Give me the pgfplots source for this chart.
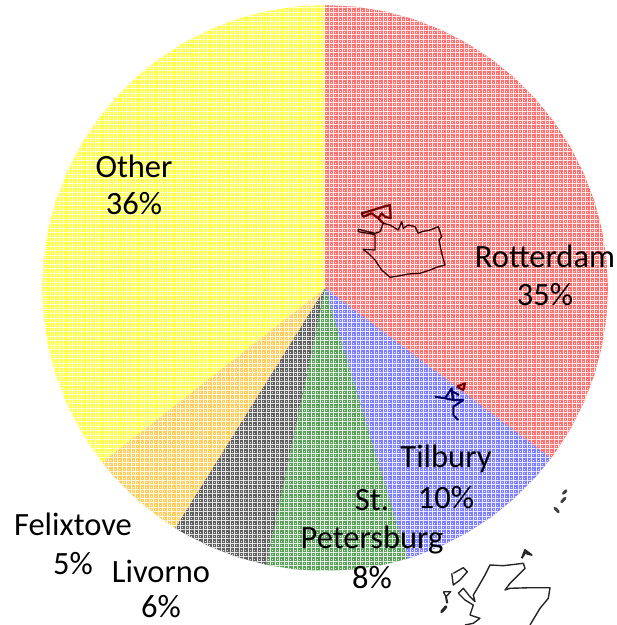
\documentclass[border=0pt]{standalone}
\usepackage{pgfplots}
\pgfplotsset{compat=1.18}
\usepackage{fontspec}
\setmainfont{Carlito}
\usetikzlibrary{patterns}
\pgfdeclarepatternformonly{finegrid}{\pgfqpoint{-0.1bp}{-0.1bp}}{\pgfqpoint{4.6bp}{4.6bp}}{\pgfqpoint{4.5bp}{4.5bp}}{%
  \pgfpathrectangle{\pgfqpoint{2.3bp}{2.3bp}}{\pgfqpoint{1bp}{1bp}}%
  \pgfusepath{fill}%
  \pgfsetlinewidth{1.05bp}%
  \pgfpathmoveto{\pgfqpoint{0bp}{0.55bp}}\pgfpathlineto{\pgfqpoint{4.5bp}{0.55bp}}%
  \pgfpathmoveto{\pgfqpoint{0.55bp}{0bp}}\pgfpathlineto{\pgfqpoint{0.55bp}{4.5bp}}%
  \pgfusepath{stroke}}
\definecolor{cRed}{RGB}{255,112,112}
\definecolor{cBlue}{RGB}{125,125,255}
\definecolor{cGreen}{RGB}{90,160,90}
\definecolor{cGrey}{RGB}{95,95,95}
\definecolor{cOrange}{RGB}{255,205,90}
\definecolor{cYellow}{RGB}{255,255,60}
\pgfplotsset{wedge/.style={forget plot,fill=#1,draw=none,postaction={pattern=finegrid,pattern color=white!85!#1}}}
\begin{document}
\begin{tikzpicture}
\path[use as bounding box] (0,0) rectangle (617bp,625bp);
\begin{axis}[at={(0,0)},anchor=south west,scale only axis,width=617bp,height=625bp,
  xmin=0,xmax=617,ymin=0,ymax=625,y dir=reverse,hide axis,clip=true]
\addplot[wedge=cRed] coordinates {(325,288)(325,5)(354.6,6.6)(383.8,11.2)(412.5,18.8)(440.1,29.5)(466.5,42.9)(491.3,59)(514.4,77.7)(535.3,98.6)(554,121.7)(570.1,146.5)(583.5,172.9)(594.2,200.5)(601.8,229.2)(606.4,258.4)(608,288)(606.4,317.6)(601.8,346.8)(594.2,375.5)(583.5,403.1)(570.1,429.5)(554,454.3)(551,458.3)} --cycle;
\addplot[wedge=cBlue] coordinates {(325,288)(551,458.3)(535.3,477.4)(514.4,498.3)(491.3,517)(466.5,533.1)(440.1,546.5)(412.5,557.2)(407.7,558.6)} --cycle;
\addplot[wedge=cGreen] coordinates {(325,288)(407.7,558.6)(383.8,564.8)(354.6,569.4)(325,571)(295.4,569.4)(266.2,564.8)} --cycle;
\addplot[wedge=cGrey] coordinates {(325,288)(266.2,564.8)(237.5,557.2)(209.9,546.5)(183.5,533.1)(175,528)} --cycle;
\addplot[wedge=cOrange] coordinates {(325,288)(175,528)(158.7,517)(135.6,498.3)(114.7,477.4)(102,462.2)} --cycle;
\addplot[wedge=cYellow] coordinates {(325,288)(102,462.2)(96,454.3)(79.9,429.5)(66.5,403.1)(55.8,375.5)(48.2,346.8)(43.6,317.6)(42,288)(43.6,258.4)(48.2,229.2)(55.8,200.5)(66.5,172.9)(79.9,146.5)(96,121.7)(114.7,98.6)(135.6,77.7)(158.7,59)(183.5,42.9)(209.9,29.5)(237.5,18.8)(266.2,11.2)(295.4,6.6)(325,5)} --cycle;
% outline in the red wedge
\addplot[draw=black!80!red,line width=1.3pt,line join=round,forget plot] coordinates {(362.7,249.3)(368.3,253.3)(375,260)(381.7,270)(390,277.3)(398.3,276)(408.3,274)(420,273.3)(430,270)(436.7,267.3)(445,265)(441.7,253.3)(439,240)(441.7,236.7)(438.3,226.7)(430,230)(421.7,231.7)(418.3,233.3)(415,226.7)(408.3,225)(403.3,228.3)(401.7,221.7)(398.3,230)(390,225)(383.3,223.3)(380,231.7)(375,233.3)(358.3,229.3)(358.3,231.7)(373.3,234.3)(375,235)(375,250)(362.7,249.3)};
\addplot[draw=black!55!red,line width=2.2pt,line join=round,forget plot] coordinates {(383.3,223.3)(378.3,218.3)(371.7,213.3)(363.3,216.7)(361.7,213.3)(373.3,210)(383.3,206.7)(390,205)(390.7,218.3)(385,216.7)(381.7,213.3)(378.3,218.3)};
% islets over the blue wedge
\addplot[draw=black!60!blue,line width=2pt,line join=round,forget plot] coordinates {(435,396.7)(445,398.3)(451.7,388.3)(453.3,400)(463.3,400)(453.3,406.7)(453.3,415)(458.3,420)};
\addplot[draw=black!60!blue,line width=2pt,line join=round,forget plot] coordinates {(445,398.3)(453.3,400)(451.7,391)(459,395)};
\addplot[draw=black!55!red,line width=2.2pt,line join=round,forget plot] coordinates {(456.7,386.7)(465,383.3)(463.3,390)(456.7,386.7)};
\addplot[draw=black!75,line width=3pt,line cap=round,forget plot] coordinates {(555,508.3)(558.3,511.7)};
\addplot[draw=black!75,line width=3pt,line cap=round,forget plot] coordinates {(561.7,501.7)(565,498.3)};
\addplot[draw=black!75,line width=3pt,line cap=round,forget plot] coordinates {(563.3,493.3)(566,490.7)};
% Scotland
\addplot[draw=black!85,line width=1.4pt,line join=round,forget plot] coordinates {(530,625)(540,608.3)(548.3,598.3)(550,587.7)(530,587.7)(510,588.3)(505,590)(510,583.3)(518.3,575)(525,568.3)(523.3,563.3)(503.3,565.7)(490,565)(485,575)(478.3,586.7)(473.3,595)(475,601.7)(470,596.7)(463.3,588.3)(458.3,593.3)(465,600)(473.3,605)(470,615)(480,618.3)(473.3,623.3)(465,625)};
\addplot[draw=black!85,line width=1.4pt,line join=round,forget plot] coordinates {(453.3,573.3)(463.3,567.7)(467.3,571.7)(460,580)(453.3,585)(451.7,573.3)};
\addplot[draw=black!85,line width=1.4pt,line join=round,forget plot] coordinates {(443.3,591.7)(450.7,591.7)(446,596.7)(443.3,591.7)};
\addplot[draw=black!85,line width=2pt,forget plot] coordinates {(446,596.7)(447.3,603.3)};
\addplot[draw=black!85,line width=3pt,line cap=round,forget plot] coordinates {(441.7,611.7)(446,606.7)};
\addplot[draw=black!85,line width=1.8pt,line join=round,forget plot] coordinates {(521.7,558.3)(525,550)(531.7,555)(525,553)(521.7,558.3)};
\tikzset{lab/.style={font=\fontsize{32.5bp}{39bp}\selectfont,text=black,inner sep=0pt,anchor=center}}
\node[lab] at (axis cs:545,256) {Rotterdam};
\node[lab] at (axis cs:545,295) {35\%};
\node[lab] at (axis cs:134,166) {Other};
\node[lab] at (axis cs:134,204) {36\%};
\node[lab] at (axis cs:446,459) {Tilbury};
\node[lab] at (axis cs:446,498) {10\%};
\node[lab] at (axis cs:372,500) {St.};
\node[lab] at (axis cs:372,540) {Petersburg};
\node[lab] at (axis cs:372,578) {8\%};
\node[lab] at (axis cs:73,524) {Felixtove};
\node[lab] at (axis cs:73,564) {5\%};
\node[lab] at (axis cs:161,571) {Livorno};
\node[lab] at (axis cs:161,607) {6\%};
\end{axis}
\end{tikzpicture}
\end{document}
